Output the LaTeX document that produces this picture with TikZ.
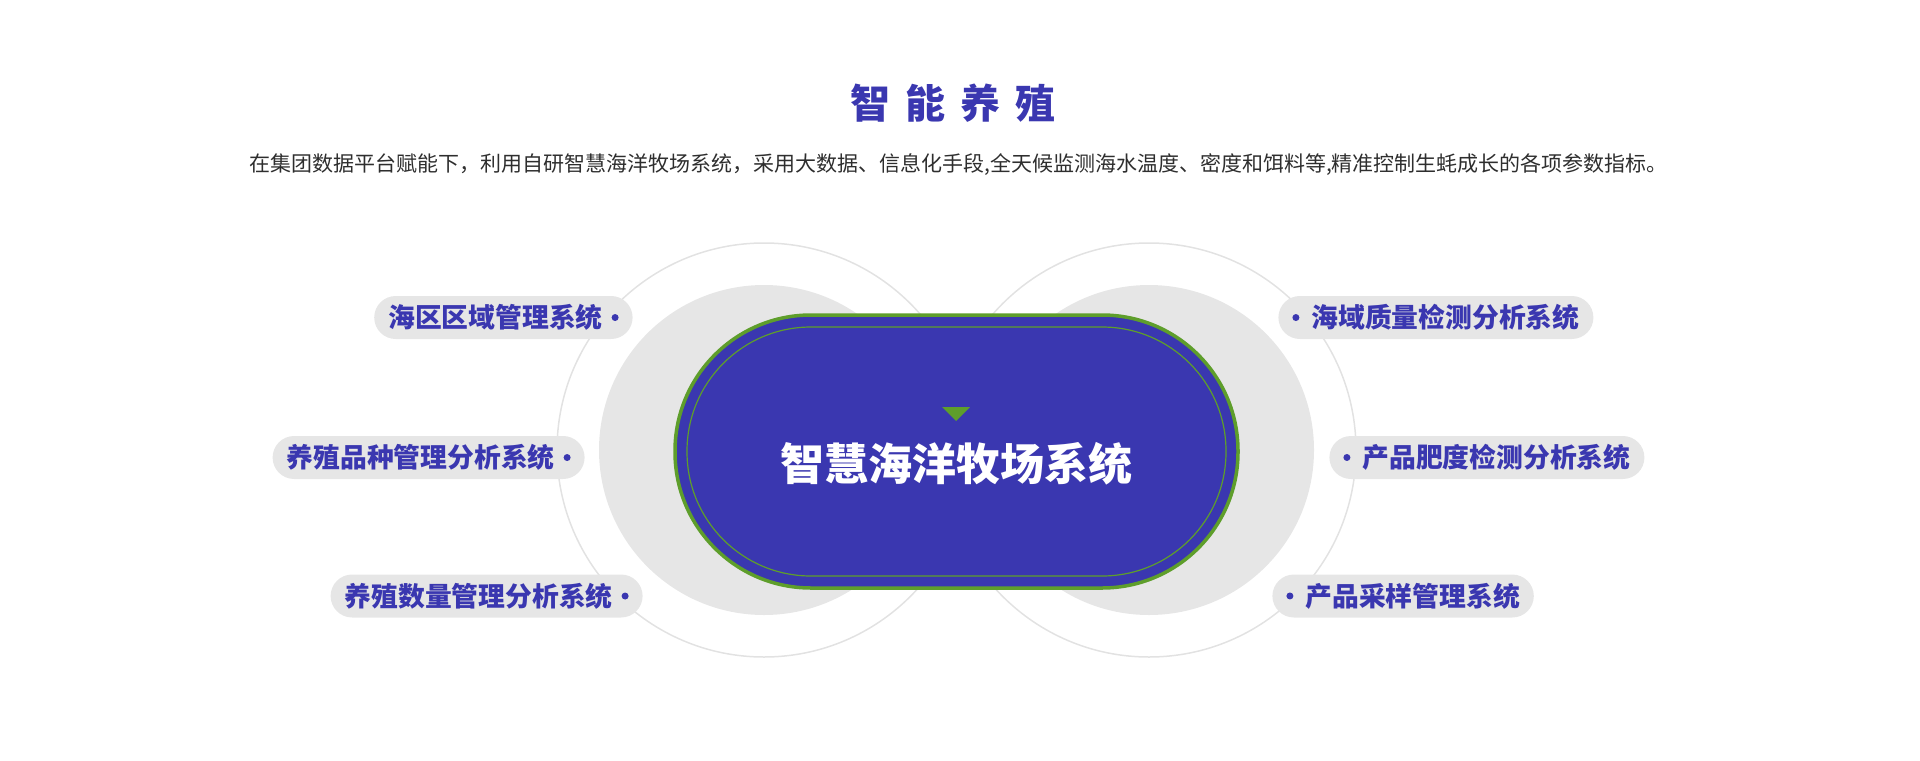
\documentclass[tikz,border=0pt]{standalone}
\usepackage{fontspec}
\setmainfont{Noto Sans CJK SC}
\usepackage{color}
\usetikzlibrary{positioning}

\definecolor{oceanblue}{HTML}{3A37B0}
\definecolor{grassgreen}{HTML}{5E9E2B}
\definecolor{pillgray}{HTML}{E6E6E6}
\definecolor{ringgray}{HTML}{E2E2E2}
\definecolor{textgray}{HTML}{2E2E2E}
\newcommand{\sysdot}{\tikz[baseline={(0,-0.38em)}]\fill[oceanblue] (0,0) circle (1.75pt);}
\newcommand{\widespacing}{\spaceskip=0.38em\relax}

\begin{document}
\begin{tikzpicture}[x=0.5pt, y=-0.5pt,
    sysbox/.style={fill=pillgray, rounded corners=10.75pt, minimum height=21.5pt, inner xsep=7pt, inner ysep=0pt, text=oceanblue, font=\fontsize{13.4pt}{13.4pt}\selectfont\bfseries},
    ring/.style={draw=ringgray, line width=0.75pt},
    disc/.style={fill=pillgray}]
        \useasboundingbox (0,0) rectangle (1920,760);
        % heading
        \node[text=oceanblue, font={\fontsize{20pt}{24pt}\selectfont\bfseries\widespacing}] (title) at (953,103) {智 能 养 殖};
        \node[text=textgray, font=\fontsize{10.5pt}{12pt}\selectfont] (intro) at (958.5,165) {在集团数据平台赋能下，利用自研智慧海洋牧场系统，采用大数据、信息化手段,全天候监测海水温度、密度和饵料等,精准控制生蚝成长的各项参数指标。};
        % rings and discs
        \draw[ring] (764,450) circle (207);
        \draw[ring] (1149,450) circle (207);
        \fill[disc] (764,450) circle (165);
        \fill[disc] (1149,450) circle (165);
        % hub
        \node[draw=grassgreen, line width=1.75pt, fill=oceanblue, rounded corners=68pt, minimum width=281.5pt, minimum height=136.5pt] (hub) at (956.5,451.5) {};
        \node[draw=grassgreen, line width=0.6pt, rounded corners=62pt, minimum width=269.5pt, minimum height=124.5pt] (hubline) at (hub.center) {};
        \node[text=white, font=\fontsize{22pt}{22pt}\selectfont\bfseries] (hubname) at (956.5,464) {智慧海洋牧场系统};
        \fill[grassgreen] (942,407) -- (970,407) -- (956,421) -- cycle;
        % left systems
        \node[sysbox, anchor=east] (zone) at (633,317.5) {海区区域管理系统\hspace{4.5pt}\sysdot};
        \node[sysbox, anchor=east] (breed) at (585,457.5) {养殖品种管理分析系统\hspace{4.5pt}\sysdot};
        \node[sysbox, anchor=east] (count) at (643,596) {养殖数量管理分析系统\hspace{4.5pt}\sysdot};
        % right systems
        \node[sysbox, anchor=west] (water) at (1278,317.5) {\sysdot\hspace{6pt}海域质量检测分析系统};
        \node[sysbox, anchor=west] (fat) at (1329,457.5) {\sysdot\hspace{6pt}产品肥度检测分析系统};
        \node[sysbox, anchor=west] (sample) at (1272,596) {\sysdot\hspace{6pt}产品采样管理系统};
    \end{tikzpicture}
\end{document}
